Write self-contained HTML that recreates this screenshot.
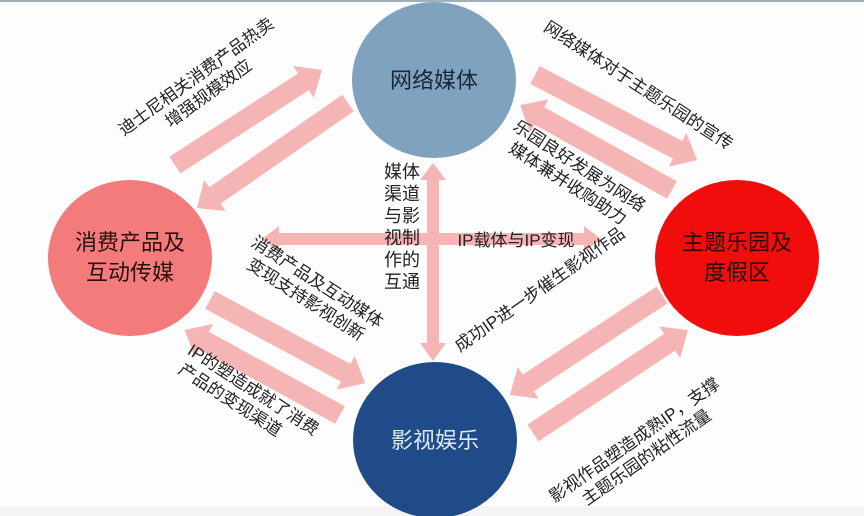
<!DOCTYPE html>
<html><head><meta charset="utf-8"><style>
html,body{margin:0;padding:0;background:#fff;}
svg{display:block;}
text{font-family:"Liberation Sans","Noto Sans CJK SC",sans-serif;}
</style></head><body>
<svg width="864" height="516" viewBox="0 0 864 516" xmlns="http://www.w3.org/2000/svg">
<rect width="864" height="516" fill="#fdfdfd"/>
<rect x="0" y="0" width="864" height="2" fill="#9fb0bd"/>
<rect x="0" y="506" width="864" height="10" fill="#f4f4f4"/>
<g fill="#f6b5b5">
<g transform="translate(175,165) rotate(-32.9)"><polygon points="0,-10 153,-10 153,-19 175,0 153,19 153,10 0,10"/></g>
<g transform="translate(348,103) rotate(145.2)"><polygon points="0,-10 162,-10 162,-19 184,0 162,19 162,10 0,10"/></g>
<g transform="translate(535,75) rotate(27.7)"><polygon points="0,-10 161,-10 161,-19 183,0 161,19 161,10 0,10"/></g>
<g transform="translate(672,190) rotate(209.2)"><polygon points="0,-10 152,-10 152,-19 174,0 152,19 152,10 0,10"/></g>
<g transform="translate(210,300) rotate(28.2)"><polygon points="0,-10 154,-10 154,-19 176,0 154,19 154,10 0,10"/></g>
<g transform="translate(340,415) rotate(208.7)"><polygon points="0,-10 155,-10 155,-19 177,0 155,19 155,10 0,10"/></g>
<g transform="translate(662,295) rotate(146.7)"><polygon points="0,-10 160,-10 160,-19 182,0 160,19 160,10 0,10"/></g>
<g transform="translate(533,433) rotate(-33.6)"><polygon points="0,-10 164,-10 164,-19 186,0 164,19 164,10 0,10"/></g>
<polygon points="433,163 446,180 439,180 439,343 446,343 433,361 420,343 427,343 427,180 420,180"/>
<polygon points="262,239 279,226 279,233 584,233 584,226 601,239 584,252 584,245 279,245 279,252"/>
</g>
<ellipse cx="434" cy="80" rx="82" ry="78" fill="#7fa2bf"/>
<ellipse cx="130" cy="258" rx="82" ry="78" fill="#f47b7b"/>
<ellipse cx="737" cy="258" rx="82" ry="78" fill="#f20d0d"/>
<ellipse cx="435" cy="440" rx="82" ry="78" fill="#1f4c88"/>
<g font-size="22" text-anchor="middle">
<text x="434" y="88" fill="#18283a">网络媒体</text>
<text x="130" y="250" fill="#2a1010">消费产品及</text>
<text x="130" y="280" fill="#2a1010">互动传媒</text>
<text x="737" y="250" fill="#2a0505">主题乐园及</text>
<text x="737" y="280" fill="#2a0505">度假区</text>
<text x="435" y="448" fill="#dfe8f4">影视娱乐</text>
</g>
<g font-size="17" fill="#222" text-anchor="middle">
<g font-size="18">
<text x="402" y="178">媒体</text>
<text x="402" y="200">渠道</text>
<text x="402" y="222">与影</text>
<text x="402" y="244">视制</text>
<text x="402" y="266">作的</text>
<text x="402" y="288">互通</text>
<text x="516" y="246" font-size="17">IP载体与IP变现</text>
</g>
<g transform="translate(203,86) rotate(-36)"><text x="0" y="-6">迪士尼相关消费产品热卖</text><text x="0" y="15">增强规模效应</text></g>
<g transform="translate(638,86) rotate(33)"><text x="0" y="5">网络媒体对于主题乐园的宣传</text></g>
<g transform="translate(574,174) rotate(33)"><text x="0" y="-4">乐园良好发展为网络</text><text x="0" y="17">媒体兼并收购助力</text></g>
<g transform="translate(540,290) rotate(-35)"><text x="0" y="5">成功IP进一步催生影视作品</text></g>
<g transform="translate(640,448) rotate(-35)"><text x="0" y="-4">影视作品塑造成熟IP，支撑</text><text x="0" y="17">主题乐园的粘性流量</text></g>
<g transform="translate(312,290) rotate(33)"><text x="0" y="-4">消费产品及互动媒体</text><text x="0" y="17">变现支持影视创新</text></g>
<g transform="translate(248,398) rotate(33)"><text x="0" y="-4">IP的塑造成就了消费</text><text x="-14" y="17">产品的变现渠道</text></g>
</g>
</svg>
</body></html>
